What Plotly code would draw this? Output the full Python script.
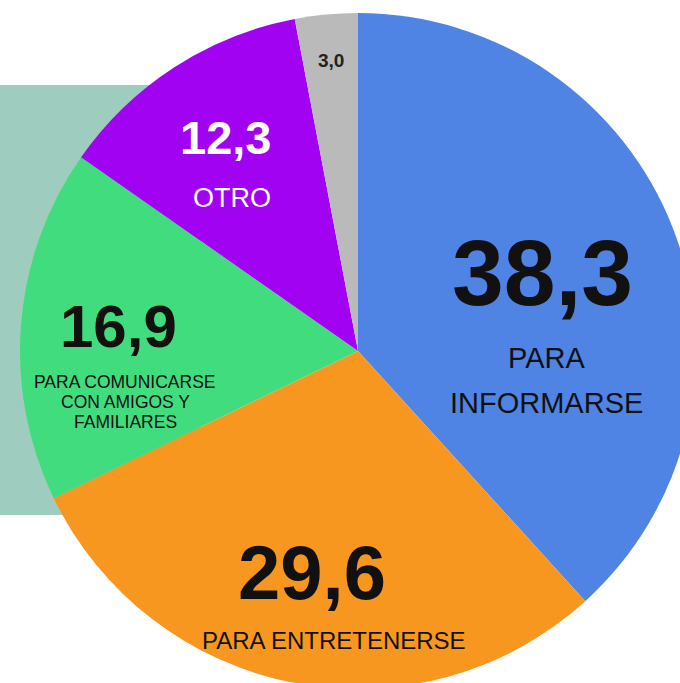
import plotly.graph_objects as go

categories = ["PARA INFORMARSE", "PARA ENTRETENERSE", "PARA COMUNICARSE CON AMIGOS Y FAMILIARES", "OTRO", "SIN DATO"]
values = [38.3, 29.6, 16.9, 12.3, 3.0]
colors = ["#4f84e5", "#f89720", "#41dc7e", "#a103f2", "#bababa"]
label_lines = [["PARA", "INFORMARSE"], ["PARA ENTRETENERSE"],
               ["PARA COMUNICARSE", "CON AMIGOS Y", "FAMILIARES"], ["OTRO"], []]

W, H = 716, 700
FONT = "Liberation Sans, Arial, Helvetica, sans-serif"


def px(x):
    return x / W


def py(y):
    return (H - y) / H


fig = go.Figure(go.Pie(
    labels=categories, values=values, sort=False, direction="clockwise",
    marker=dict(colors=colors, line=dict(width=0)),
    textinfo="none", hoverinfo="label+value", showlegend=False,
    domain=dict(x=[0, 1], y=[py(689), py(13)]),
))

fig.add_shape(type="rect", xref="paper", yref="paper", layer="below",
              x0=0, x1=px(200), y0=py(515), y1=py(85),
              fillcolor="#9ecdbf", line=dict(width=0))


def fmt(v):
    return f"{v:.1f}".replace(".", ",")


# value x, value y, value size, value colour, label x, first label y, label size, line gap, label colour
specs = [
    (542, 273, 93, "#111111", 546, 358, 29, 45, "#111111"),
    (312, 572, 76, "#111111", 334, 640, 24, 0, "#111111"),
    (118, 326, 60, "#111111", 125, 382, 17.5, 20, "#111111"),
    (225, 137, 47, "#ffffff", 232, 198, 27, 0, "#ffffff"),
    (331, 60, 19, "#222222", 0, 0, 0, 0, "#222222"),
]

for i, v in enumerate(values):
    x, y, s, c, lx, ly, ls, lsp, lc = specs[i]
    fig.add_annotation(x=px(x), y=py(y), xref="paper", yref="paper", text=f"<b>{fmt(v)}</b>",
                       showarrow=False, xanchor="center", yanchor="middle",
                       font=dict(family=FONT, size=s, color=c))
    for k, line in enumerate(label_lines[i]):
        fig.add_annotation(x=px(lx), y=py(ly + k * lsp), xref="paper", yref="paper", text=line,
                           showarrow=False, xanchor="center", yanchor="middle",
                           font=dict(family=FONT, size=ls, color=lc))

fig.update_layout(width=W, height=H, margin=dict(l=0, r=0, t=0, b=0),
                  paper_bgcolor="white", plot_bgcolor="white")

fig.write_html("out.html", config={"displayModeBar": False},
               post_script="document.body.style.margin='0';document.body.style.overflow='hidden';document.documentElement.style.overflow='hidden';")
